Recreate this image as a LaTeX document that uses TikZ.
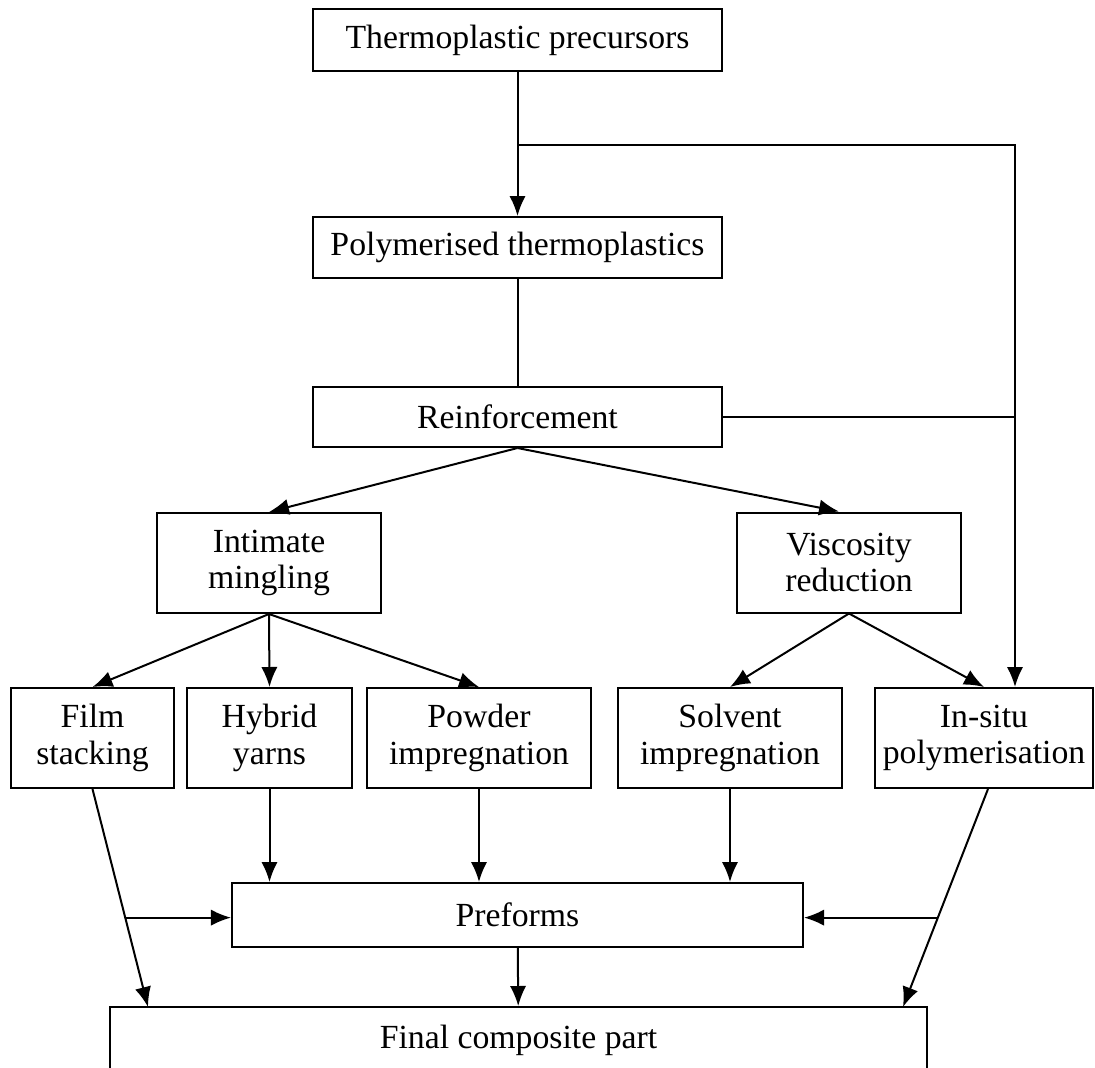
\documentclass[tikz,border=0pt]{standalone}
\usepackage{fontspec}
\setmainfont{Liberation Serif}
\usetikzlibrary{arrows.meta,calc}
\tikzset{
  stage/.style = {draw, line width = 0.8pt, align = center, inner sep = 0pt,
    font = \fontsize{13.5}{14.5}\selectfont},
  link/.style = {line width = 0.8pt}
}
\begin{document}
\begin{tikzpicture}[x = 0.4pt, y = -0.4pt, >={Latex[length=8pt, width=6.5pt]}]
\useasboundingbox (0,0) rectangle (1095,1068);
% top column
\node[stage, minimum width = 163.6pt, minimum height = 24.8pt] at (517.5,40) (prec) {Thermoplastic precursors};
\node[stage, minimum width = 163.6pt, minimum height = 24.4pt] at (517.5,247.5) (poly) {Polymerised thermoplastics};
\node[stage, minimum width = 163.6pt, minimum height = 24pt] at (517.5,417) (reinf) {Reinforcement};
% two routes
\node[stage, minimum width = 89.6pt, minimum height = 40pt] at (269,563) (intim) {Intimate\\mingling};
\node[stage, minimum width = 89.6pt, minimum height = 40pt] at (849,562.5) (visc) {Viscosity\\reduction};
% techniques
\node[stage, minimum width = 65.2pt, minimum height = 40pt] at (92.5,738) (film) {Film\\stacking};
\node[stage, minimum width = 66pt, minimum height = 40pt] at (269.5,738) (hybrid) {Hybrid\\yarns};
\node[stage, minimum width = 89.6pt, minimum height = 40pt] at (479,738) (powder) {Powder\\impregnation};
\node[stage, minimum width = 89.6pt, minimum height = 40pt] at (730,738) (solvent) {Solvent\\impregnation};
\node[stage, minimum width = 87.2pt, minimum height = 40pt] at (984,738) (insitu) {In-situ\\polymerisation};
% bottom
\node[stage, minimum width = 228.4pt, minimum height = 25.6pt] at (517.5,915) (pref) {Preforms};
\node[stage, minimum width = 326.8pt, minimum height = 26.4pt] at (518.5,1040) (final) {Final composite part};
\coordinate (br) at (517.5,145);
\coordinate (rail) at (1015,145);
\coordinate (finl) at (148,1007);
\coordinate (finr) at (903,1007);
% connectors
\draw[link, ->] (prec) -- (poly);
\draw[link, ->] (br) -- (rail) -- (rail |- insitu.north);
\draw[link] (reinf.east) -- (reinf.east -| rail);
\draw[link] (poly) -- (reinf);
\draw[link, ->] (reinf.south) -- (intim.north);
\draw[link, ->] (reinf.south) -- ($(visc.north)+(-10,0)$);
\draw[link, ->] (intim.south) -- (film.north);
\draw[link, ->] (intim.south) -- (hybrid.north);
\draw[link, ->] (intim.south) -- (powder.north);
\draw[link, ->] (visc.south) -- (solvent.north);
\draw[link, ->] (visc.south) -- (insitu.north);
\draw[link, ->] (film.south) -- coordinate[pos = 0.59] (fbr) (finl);
\draw[link, ->] (fbr) -- (fbr -| pref.west);
\draw[link, ->] ($(insitu.south)+(4,0)$) -- coordinate[pos = 0.59] (ibr) (finr);
\draw[link, ->] (ibr) -- (ibr -| pref.east);
\draw[link, ->] (hybrid.south) -- (hybrid.south |- pref.north);
\draw[link, ->] (powder.south) -- (powder.south |- pref.north);
\draw[link, ->] (solvent.south) -- (solvent.south |- pref.north);
\draw[link, ->] (pref) -- (final);
\end{tikzpicture}
\end{document}
